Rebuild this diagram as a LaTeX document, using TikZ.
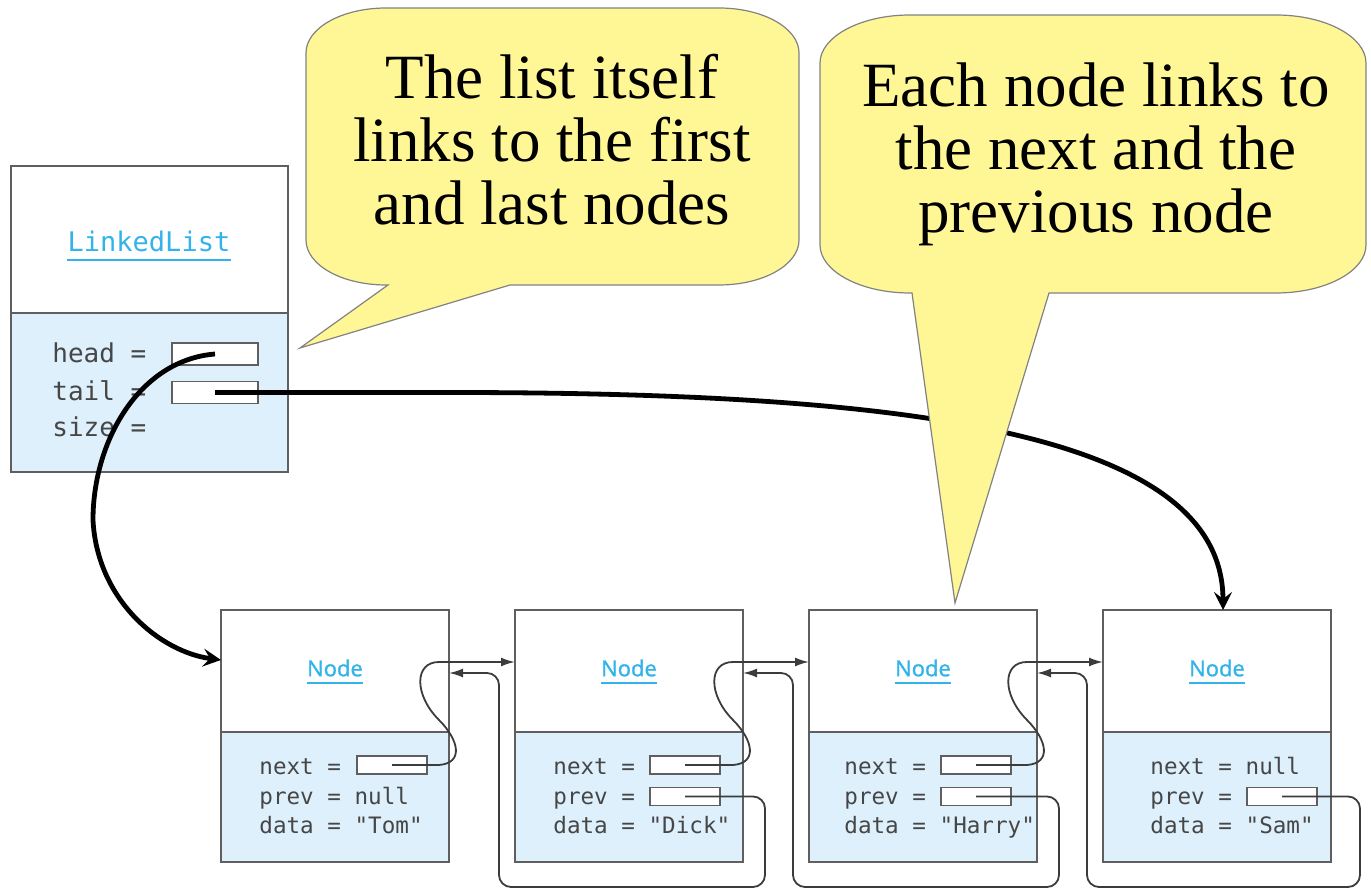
\documentclass[tikz,border=0pt]{standalone}
\usepackage{fontspec}
\usetikzlibrary{positioning,arrows.meta}

\newfontfamily\notefont{Liberation Serif}
\newfontfamily\codefont{DejaVu Sans Mono}
\newfontfamily\namefont[FakeBold=1.2]{Open Sans}

\definecolor{noteyellow}{RGB}{255,246,150}
\definecolor{notegray}{RGB}{130,130,130}
\definecolor{bodyblue}{RGB}{222,240,252}
\definecolor{framegray}{RGB}{95,95,95}
\definecolor{codegray}{RGB}{70,70,70}
\definecolor{linkcyan}{RGB}{50,180,235}
\definecolor{ptrgray}{RGB}{60,60,60}

\tikzset{
  boxframe/.style={draw=framegray, line width=1pt, inner sep=0pt, outer sep=0pt},
  listtop/.style={boxframe, fill=white, minimum width=138.5pt, minimum height=73.5pt},
  listbody/.style={boxframe, fill=bodyblue, minimum width=138.5pt, minimum height=79.5pt},
  nodetop/.style={boxframe, fill=white, minimum width=114pt, minimum height=61pt},
  nodebody/.style={boxframe, fill=bodyblue, minimum width=114pt, minimum height=65pt},
  field/.style={draw=framegray, line width=0.8pt, fill=white, inner sep=0pt, minimum width=35pt, minimum height=9pt},
  bigfield/.style={field, minimum width=43pt, minimum height=11pt},
  code/.style={font=\codefont\fontsize{11.3}{13}\selectfont, text=codegray, inner sep=0pt, anchor=base west},
  listcode/.style={code, font=\codefont\fontsize{13}{15}\selectfont},
  nodename/.style={font=\namefont\fontsize{11}{13}\selectfont, text=linkcyan, inner sep=0pt},
  listname/.style={nodename, font=\codefont\fontsize{13.5}{15}\selectfont},
  uline/.style={draw=linkcyan, line width=1pt},
  ptr/.style={draw=ptrgray, line width=0.9pt, -{Latex[length=7pt,width=4.5pt]}},
  bigptr/.style={draw=black, line width=2.4pt, -{Stealth[length=9pt,width=9pt,inset=3.5pt]}},
  bubble/.style={fill=noteyellow, draw=notegray, line width=0.6pt},
  notetext/.style={font=\notefont\fontsize{31.5}{31.5}\selectfont, align=center, inner sep=0pt}
}

\begin{document}
\begin{tikzpicture}[x=0.5pt, y=-0.5pt]
  \useasboundingbox (0,0) rectangle (1371,892);

  % the list object
  \node[listtop] (list) at (149,239.5) {};
  \node[listbody, below=0pt of list] (listbody) {};
  \node[listname] (listname) at ([yshift=-0.75pt]list.center) {LinkedList};
  \draw[uline] ([yshift=-4pt]listname.south west) -- ([yshift=-4pt]listname.south east);
  \node[listcode] (headlbl) at ([shift={(41.5,50)}]listbody.north west) {head =};
  \node[listcode] (taillbl) at ([shift={(41.5,88)}]listbody.north west) {tail =};
  \node[listcode] (sizelbl) at ([shift={(41.5,124)}]listbody.north west) {size =};
  \node[bigfield] (headptr) at ([shift={(204.5,41)}]listbody.north west) {};
  \node[bigfield] (tailptr) at ([shift={(204.5,79.5)}]listbody.north west) {};

  % the four list nodes
  \node[nodetop] (n1) at (335,671) {};
  \node[nodetop, right=33pt of n1] (n2) {};
  \node[nodetop, right=33pt of n2] (n3) {};
  \node[nodetop, right=33pt of n3] (n4) {};
  \foreach \i in {1,...,4} {
    \node[nodebody, below=0pt of n\i] (body\i) {};
    \node[nodename] (name\i) at ([yshift=1.5pt]n\i.center) {Node};
    \draw[uline] ([yshift=-3pt]name\i.south west) -- ([yshift=-3pt]name\i.south east);
  }

  % node fields
  \node[code] (n1l1) at ([shift={(38,42)}]body1.north west) {next =};
  \node[code] (n1l2) at ([shift={(38,72)}]body1.north west) {prev = null};
  \node[code] (n1l3) at ([shift={(38,101)}]body1.north west) {data = "Tom"};
  \node[field] (n1next) at ([shift={(171,33)}]body1.north west) {};

  \node[code] (n2l1) at ([shift={(38,42)}]body2.north west) {next =};
  \node[code] (n2l2) at ([shift={(38,72)}]body2.north west) {prev =};
  \node[code] (n2l3) at ([shift={(38,101)}]body2.north west) {data = "Dick"};
  \node[field] (n2next) at ([shift={(170,33)}]body2.north west) {};
  \node[field] (n2prev) at ([shift={(170,64.5)}]body2.north west) {};

  \node[code] (n3l1) at ([shift={(35,42)}]body3.north west) {next =};
  \node[code] (n3l2) at ([shift={(35,72)}]body3.north west) {prev =};
  \node[code] (n3l3) at ([shift={(35,101)}]body3.north west) {data = "Harry"};
  \node[field] (n3next) at ([shift={(167,33)}]body3.north west) {};
  \node[field] (n3prev) at ([shift={(167,64.5)}]body3.north west) {};

  \node[code] (n4l1) at ([shift={(47,42)}]body4.north west) {next = null};
  \node[code] (n4l2) at ([shift={(47,72)}]body4.north west) {prev =};
  \node[code] (n4l3) at ([shift={(47,101)}]body4.north west) {data = "Sam"};
  \node[field] (n4prev) at ([shift={(179,64.5)}]body4.north west) {};

  % next links
  \foreach \a/\b in {1/2,2/3,3/4}
    \draw[ptr] (n\a next.center) -- ([shift={(-10,94)}]n\a.east)
      .. controls ([shift={(15,92)}]n\a.east) and ([shift={(10,69)}]n\a.east) .. ([shift={(-10,49)}]n\a.east)
      .. controls ([shift={(-35,24)}]n\a.east) and ([shift={(-35,-9)}]n\a.east) .. ([shift={(-10,-9)}]n\a.east)
      -- ([yshift=4.5pt]n\b.west);

  % prev links
  \foreach \a/\b/\d in {2/1/22,3/2/22,4/3/29}
    \draw[ptr, rounded corners=6pt] (n\a prev.center) -| ([shift={(\d,25)}]body\a.south east)
      -| ([shift={(-16,2)}]n\a.west) -- ([yshift=-1pt]n\b.east);

  % head and tail
  \draw[bigptr] (headptr.center) .. controls (140,360) and (93,440) .. (93,520)
    .. controls (97,600) and (160,652) .. ([yshift=5.5pt]n1.west);
  \draw[bigptr] (tailptr.center) -- ++(235,0)
    .. controls (900,392.5) and (1223,430) .. ([xshift=3pt]n4.north);

  % speech bubbles
  \path[bubble] (510,285) -- (300,348) -- (388,285) -- (386,285)
    .. controls (342,285) and (306,265) .. (306,240) -- (306,53)
    .. controls (306,28) and (342,8) .. (386,8) -- (719,8)
    .. controls (763,8) and (799,28) .. (799,53) -- (799,240)
    .. controls (799,265) and (763,285) .. (719,285) -- cycle;
  \node[notetext] (note1) at (552,140) {The list itself\\links to the first\\and last nodes};

  \path[bubble] (1049,293) -- (955,603) -- (912,293) -- (910,293)
    .. controls (860,293) and (820,271) .. (820,245) -- (820,63)
    .. controls (820,37) and (860,15) .. (910,15) -- (1276,15)
    .. controls (1326,15) and (1366,37) .. (1366,63) -- (1366,245)
    .. controls (1366,271) and (1326,293) .. (1276,293) -- cycle;
  \node[notetext] (note2) at (1096,154) {Each node links to\\the next and the\\previous node};
\end{tikzpicture}
\end{document}
